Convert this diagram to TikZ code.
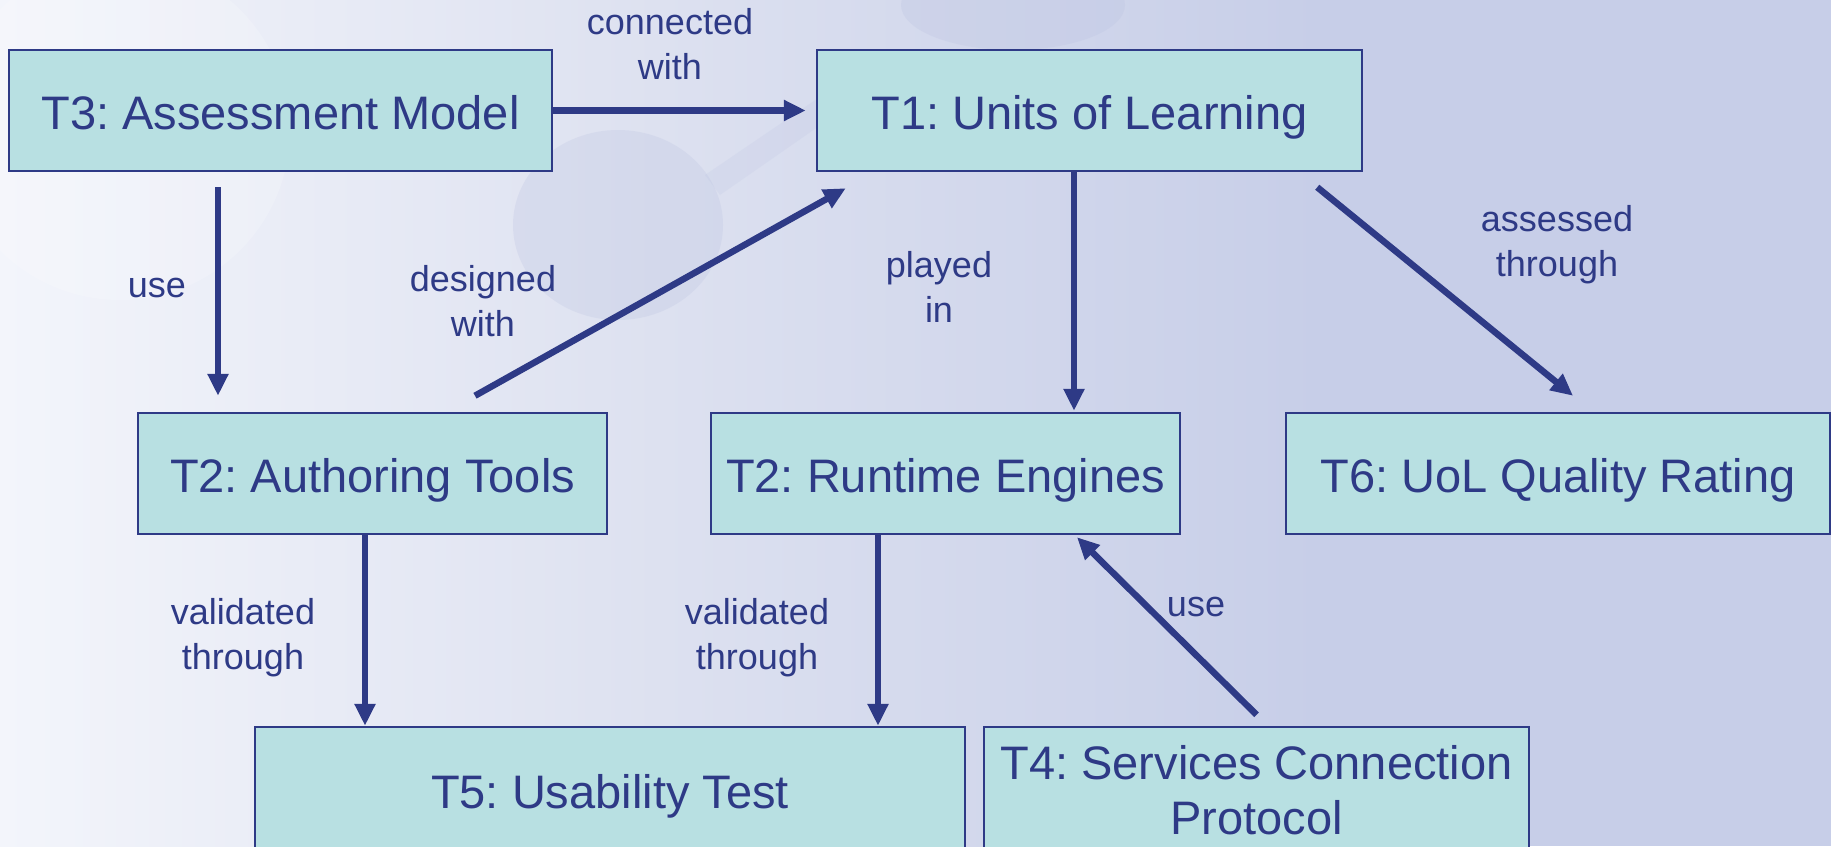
\documentclass[tikz,border=0pt]{standalone}
\usepackage{fontspec}
\setmainfont{Liberation Sans}
\usetikzlibrary{arrows.meta,calc}
\definecolor{navy}{HTML}{2E3A86}
\definecolor{boxfill}{HTML}{B8E0E2}
\definecolor{bgleft}{HTML}{F3F5FB}
\definecolor{bgmid}{HTML}{DDE1F0}
\definecolor{bgright}{HTML}{C7CEE8}
\definecolor{deco}{HTML}{B9C1E0}
\frenchspacing
\tikzset{
  tbox/.style={draw=navy, line width=2.5pt, fill=boxfill, text=navy,
    font=\fontsize{47}{55}\selectfont, align=center, inner sep=0pt,
    minimum height=121pt},
  oneline/.style={text height=37pt, text depth=0pt},
  lbl/.style={text=navy, font=\fontsize{36}{45}\selectfont, align=center, inner sep=0pt},
  arr/.style={draw=navy, line width=6.5pt, -{Triangle[length=22pt 0,width=20pt 0]}}
}
\begin{document}
\begin{tikzpicture}[x=1pt,y=-1pt]
\useasboundingbox (0,0) rectangle (1831,846);
% background
\shade[left color=bgleft, right color=bgright, middle color=bgmid] (0,0) rectangle (1320,846);
\fill[bgright] (1319,0) rectangle (1831,846);
\fill[white, opacity=0.18] (120,130) circle (170);
\fill[deco, opacity=0.25] (618,225) ellipse (105 and 95);
\fill[deco, opacity=0.18] (705,175) -- (830,90) -- (845,108) -- (720,195) -- cycle;
\fill[deco, opacity=0.25] (1013,5) ellipse (112 and 45);
% boxes
\node[tbox, oneline, minimum width=543pt] (T3) at (280.5,110.5) {T3: Assessment Model};
\node[tbox, oneline, minimum width=545pt] (T1) at (1089.5,110.5) {T1: Units of Learning};
\node[tbox, oneline, minimum width=469pt] (T2A) at (372.5,473.5) {T2: Authoring Tools};
\node[tbox, oneline, minimum width=469pt] (T2R) at (945.5,473.5) {T2: Runtime Engines};
\node[tbox, oneline, minimum width=544pt] (T6) at (1558,473.5) {T6: UoL Quality Rating};
\node[tbox, oneline, minimum width=710pt, minimum height=126pt] (T5) at (610,790) {T5: Usability Test};
\node[tbox, minimum width=545pt, minimum height=126pt] (T4) at (1256.5,790) {T4: Services Connection\\Protocol};
% connectors
\draw[arr] (T3.east) -- ([xshift=-10pt]T1.west);
\draw[arr] ([xshift=-62.5pt,yshift=-15pt]T3.south) -- ([xshift=-154.5pt,yshift=16pt]T2A.north);
\draw[arr] ([xshift=102.5pt,yshift=16pt]T2A.north) -- ([xshift=30pt,yshift=-16pt]T1.south west);
\draw[arr] ([xshift=-15.5pt]T1.south) -- ([xshift=128.5pt,yshift=1pt]T2R.north);
\draw[arr] ([xshift=-46pt,yshift=-15pt]T1.south east) -- ([xshift=15pt,yshift=16pt]T6.north);
\draw[arr] ([xshift=-7.5pt]T2A.south) -- ([xshift=-245pt]T5.north);
\draw[arr] ([xshift=-67.5pt]T2R.south) -- ([xshift=268pt]T5.north);
\draw[arr] ([xshift=0pt,yshift=11pt]T4.north) -- ([xshift=131.5pt,yshift=-2pt]T2R.south);
% labels
\node[lbl] (l1) at (670,44.5) {connected\\with};
\node[lbl] (l2) at (157,288) {use};
\node[lbl] (l3) at (483,301.5) {designed\\with};
\node[lbl] (l4) at (939,286.5) {played\\in};
\node[lbl] (l5) at (1557,245) {assessed\\through};
\node[lbl] (l6) at (243,638) {validated\\through};
\node[lbl] (l7) at (757,638) {validated\\through};
\node[lbl] (l8) at (1196,606.5) {use};
\end{tikzpicture}
\end{document}
